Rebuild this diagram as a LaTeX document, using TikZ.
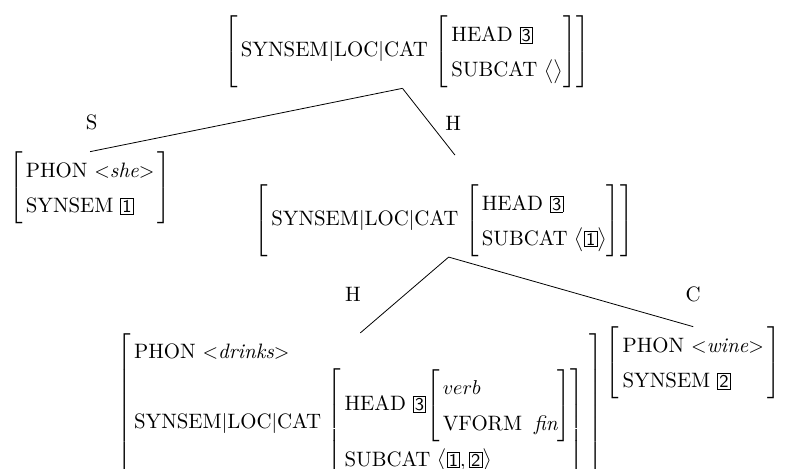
\documentclass[tikz,border=0pt]{standalone}
\usepackage{amsmath}
\renewcommand{\arraystretch}{1.4}
\newcommand{\tagnum}[1]{{\setlength{\fboxsep}{0.6pt}\fbox{\sffamily\small #1}}}
\newcommand{\slc}{\text{SYNSEM}|\text{LOC}|\text{CAT}}
\begin{document}
\begin{tikzpicture}[font=\fontsize{10.4}{12.5}\selectfont,avm/.style={inner sep=0pt},lab/.style={inner sep=1pt}]
 \useasboundingbox (0,0) rectangle (13.84,-8.21);
 \clip (0,0) rectangle (13.84,-8.21);
 % mother
 \node[avm] (top) at (7.14,-0.91) {$\left[\begin{array}{@{\,}l@{}}\slc\,\left[\begin{array}{@{\,}l@{}}\text{HEAD }\tagnum{3}\\ \text{SUBCAT }\big\langle\big\rangle\end{array}\right]\end{array}\right]$};
 % daughters
 \node[avm] (she) at (1.58,-3.30) {$\left[\begin{array}{@{\,}l@{\,}}\text{PHON}\ {<}\textit{she}{>}\\ \text{SYNSEM }\tagnum{1}\end{array}\right]$};
 \node[avm] (mid) at (7.79,-3.87) {$\left[\begin{array}{@{\,}l@{}}\slc\,\left[\begin{array}{@{\,}l@{}}\text{HEAD }\tagnum{3}\\ \text{SUBCAT }\big\langle\tagnum{1}\big\rangle\end{array}\right]\end{array}\right]$};
 \node[avm,anchor=north] (drinks) at (6.32,-5.84) {$\left[\begin{array}{@{\,}l@{\;}}\text{PHON}\ {<}\textit{drinks}{>}\\ \slc\,\left[\begin{array}{@{\,}l@{}}\text{HEAD }\tagnum{3}\!\left[\begin{array}{@{\,}l@{\hspace{6pt}}l@{}}verb\\ \text{VFORM} & \textit{fin}\end{array}\right]\\ \text{SUBCAT }\big\langle\tagnum{1},\tagnum{2}\big\rangle\end{array}\right]\end{array}\right]$};
 \node[avm] (wine) at (12.16,-6.37) {$\left[\begin{array}{@{\,}l@{\,}}\text{PHON}\ {<}\textit{wine}{>}\\ \text{SYNSEM }\tagnum{2}\end{array}\right]$};
 % branch labels
 \node[lab] (s1) at (1.61,-2.14) {S};
 \node[lab] (h1) at (7.95,-2.16) {H};
 \node[lab] (h2) at (6.19,-5.16) {H};
 \node[lab] (c1) at (12.16,-5.16) {C};
 \coordinate (hd1) at (7.98,-2.72);
 % branches
 \draw ([xshift=-0.08cm]top.south) -- (she.north);
 \draw ([xshift=-0.08cm]top.south) -- (hd1);
 \draw ([xshift=0.08cm]mid.south) -- (drinks.north);
 \draw ([xshift=0.08cm]mid.south) -- (wine.north);
\end{tikzpicture}
\end{document}
